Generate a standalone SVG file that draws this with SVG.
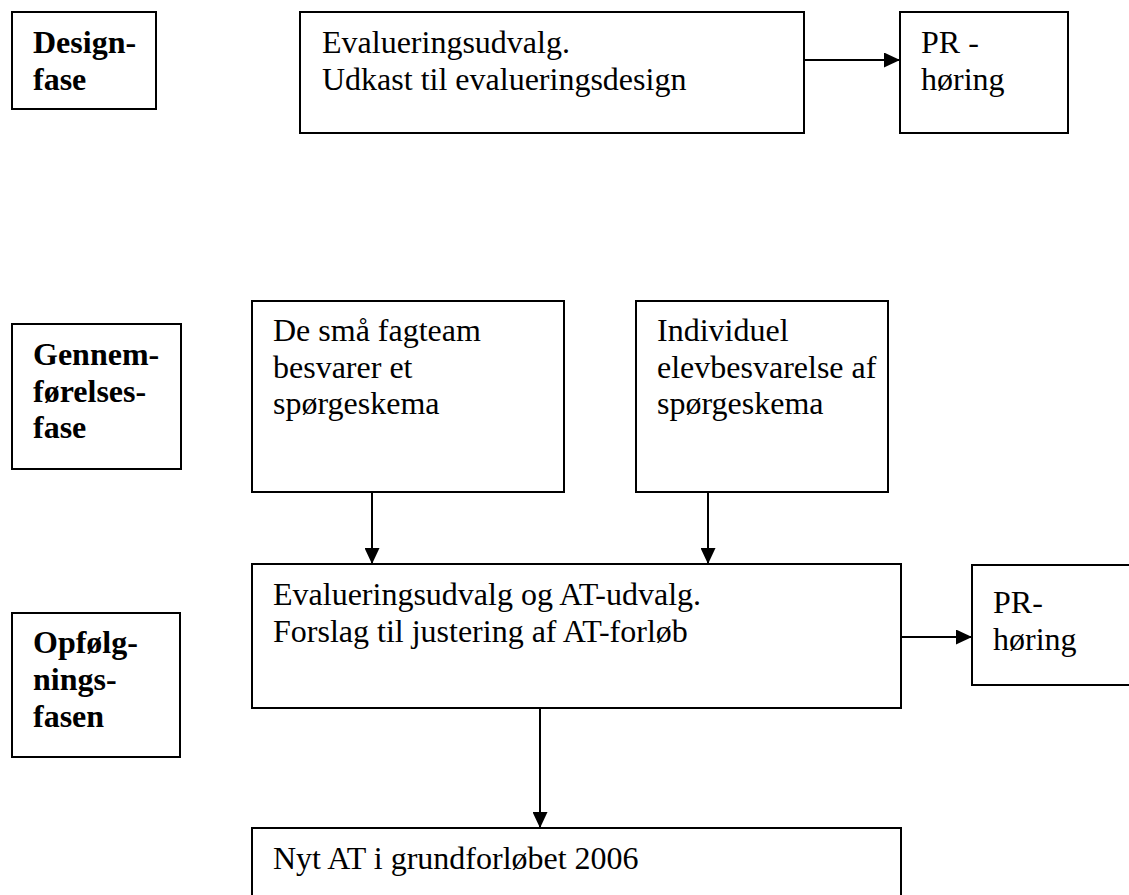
<svg xmlns="http://www.w3.org/2000/svg" width="1129" height="895" viewBox="0 0 1129 895">
<defs>
<style>
.box{fill:#fff;stroke:#000;stroke-width:2}
.t{font-family:"Liberation Serif","Times New Roman",serif;font-size:32px;fill:#000}
.b{font-weight:bold}
.c{stroke:#000;stroke-width:2;fill:none;marker-end:url(#ah)}
</style>
<marker id="ah" markerUnits="userSpaceOnUse" markerWidth="16" markerHeight="15" refX="16" refY="7.5" orient="auto">
<path d="M0,0 L16,7.5 L0,15 z" fill="#000"/>
</marker>
</defs>
<rect width="1129" height="895" fill="#fff"/>
<g id="connectors">
<line class="c" x1="804" y1="60" x2="900" y2="60"/>
<line class="c" x1="372" y1="492" x2="372" y2="564"/>
<line class="c" x1="708" y1="492" x2="708" y2="564"/>
<line class="c" x1="901" y1="637" x2="972" y2="637"/>
<line class="c" x1="540" y1="708" x2="540" y2="828"/>
</g>
<g id="designfase">
<rect class="box" x="12" y="12" width="144" height="97"/>
<text class="t b" x="33" y="53">Design-</text>
<text class="t b" x="33" y="90">fase</text>
</g>
<g id="evaluering1">
<rect class="box" x="300" y="12" width="504" height="121"/>
<text class="t" x="322" y="53">Evalueringsudvalg.</text>
<text class="t" x="322" y="90">Udkast til evalueringsdesign</text>
</g>
<g id="pr1">
<rect class="box" x="900" y="12" width="168" height="121"/>
<text class="t" x="921" y="53">PR -</text>
<text class="t" x="921" y="90">høring</text>
</g>
<g id="gennemfoerelse">
<rect class="box" x="12" y="324" width="169" height="145"/>
<text class="t b" x="33" y="365">Gennem-</text>
<text class="t b" x="33" y="402">førelses-</text>
<text class="t b" x="33" y="438">fase</text>
</g>
<g id="fagteam">
<rect class="box" x="252" y="301" width="312" height="191"/>
<text class="t" x="273" y="341">De små fagteam</text>
<text class="t" x="273" y="378">besvarer et</text>
<text class="t" x="273" y="414">spørgeskema</text>
</g>
<g id="individuel">
<rect class="box" x="636" y="301" width="252" height="191"/>
<text class="t" x="657" y="341">Individuel</text>
<text class="t" x="657" y="378">elevbesvarelse af</text>
<text class="t" x="657" y="414">spørgeskema</text>
</g>
<g id="evaluering2">
<rect class="box" x="252" y="564" width="649" height="144"/>
<text class="t" x="273" y="605">Evalueringsudvalg og AT-udvalg.</text>
<text class="t" x="273" y="642">Forslag til justering af AT-forløb</text>
</g>
<g id="pr2">
<rect class="box" x="972" y="565" width="170" height="120"/>
<text class="t" x="993" y="613">PR-</text>
<text class="t" x="993" y="650">høring</text>
</g>
<g id="opfoelgning">
<rect class="box" x="12" y="613" width="168" height="144"/>
<text class="t b" x="33" y="653">Opfølg-</text>
<text class="t b" x="33" y="690">nings-</text>
<text class="t b" x="33" y="727">fasen</text>
</g>
<g id="nytat">
<rect class="box" x="252" y="828" width="649" height="80"/>
<text class="t" x="273" y="869">Nyt AT i grundforløbet 2006</text>
</g>
</svg>
